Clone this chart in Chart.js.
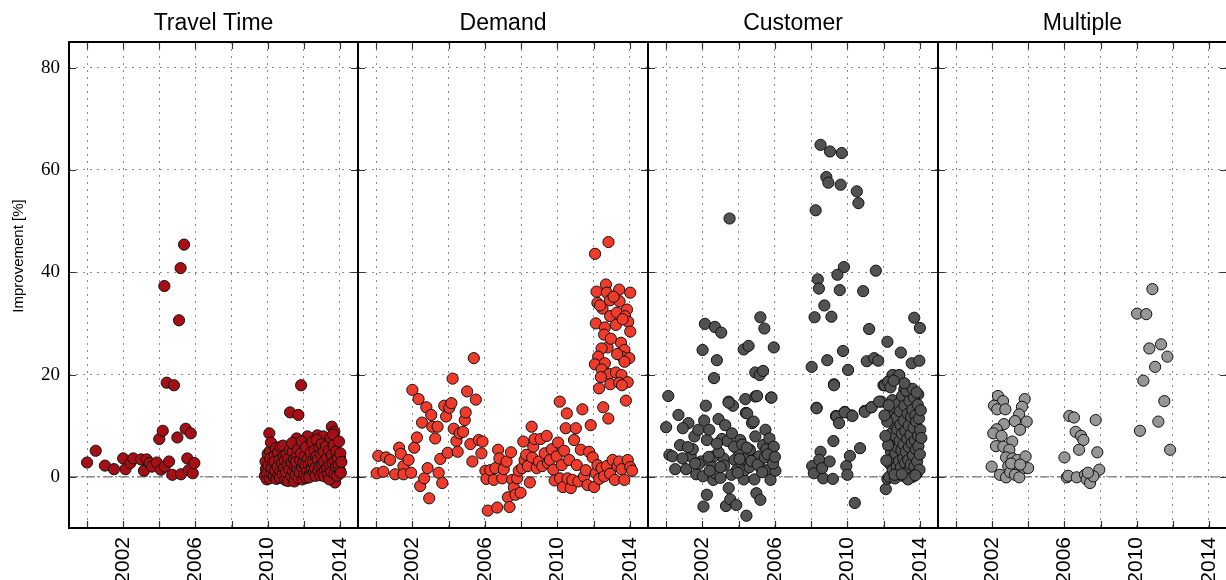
<!DOCTYPE html>
<html>
<head>
<meta charset="utf-8">
<script src="https://cdn.jsdelivr.net/npm/chart.js@4.4.1/dist/chart.umd.min.js"></script>
<style>
  html, body { margin: 0; padding: 0; background: #fff; }
  body { width: 1226px; height: 580px; overflow: hidden; position: relative; }
  canvas { position: absolute; top: 0; }
</style>
</head>
<body>
<script>
// ---------------- DATA ----------------
const panelTitles = ['Travel Time', 'Demand', 'Customer', 'Multiple'];
const panelColors = ['#a50f15', '#ef3b2c', '#525252', '#969696'];
const xTickValues = [2000, 2002, 2004, 2006, 2008, 2010, 2012, 2014];
const xLabelValues = [2002, 2006, 2010, 2014];
const yTickValues = [0, 20, 40, 60, 80];
const yAxisTitle = 'Improvement [%]';
const xRange = [1999, 2015];
const yRange = [-10, 85];

const travelTimePoints = [
  [2000.0,2.8],[2000.48,5.1],[2000.99,2.2],[2001.49,1.5],[2002.0,3.6],[2002.13,1.5],[2002.4,2.7],
  [2002.56,3.6],[2002.99,3.4],[2003.15,1.2],[2003.3,3.4],[2003.45,2.7],[2003.6,2.0],[2003.86,2.8],
  [2004.0,7.4],[2004.09,1.4],[2004.19,9.0],[2004.28,37.3],[2004.3,2.0],[2004.41,18.4],[2004.54,3.0],
  [2004.72,0.4],[2004.81,17.9],[2005.0,7.7],[2005.09,30.6],[2005.18,40.8],[2005.2,0.5],[2005.37,45.4],
  [2005.46,9.4],[2005.55,3.6],[2005.63,1.3],[2005.74,8.5],[2005.85,0.7],[2005.94,2.7],
  [2011.85,17.9],[2011.24,12.6],[2011.7,12.1],[2010.09,8.5],[2012.75,8.1],[2013.08,7.9],[2013.55,9.8],
  [2013.69,8.8],[2011.6,7.5],[2012.2,7.9],[2010.31,5.9],[2011.29,5.1],[2012.44,5.9],[2013.36,6.7],
  [2013.51,6.6],[2014.0,3.8],[2013.73,-1.1],[2012.31,3.3],
  [2009.85,0.2],[2009.9,1.5],[2009.95,-0.5],[2009.88,3.0],[2010.0,4.5],[2009.97,0.8],
  [2010.05,2.2],[2010.1,-0.3],[2010.12,5.0],[2010.15,3.6],[2010.2,0.6],[2010.22,1.8],[2010.18,6.7],
  [2010.3,2.9],[2010.33,0.1],[2010.38,4.2],[2010.42,1.2],[2010.45,5.6],[2010.48,-0.4],[2010.4,3.0],
  [2010.55,2.0],[2010.58,4.8],[2010.6,0.3],[2010.65,3.3],[2010.7,1.0],[2010.72,5.9],[2010.68,-0.2],
  [2010.8,2.6],[2010.83,0.5],[2010.88,4.0],[2010.9,1.7],[2010.95,3.2],[2010.97,-0.6],[2010.85,6.1],
  [2011.02,0.9],[2011.05,4.4],[2011.1,2.3],[2011.12,-0.8],[2011.15,3.6],[2011.2,1.4],[2011.22,5.3],
  [2011.3,0.2],[2011.33,2.8],[2011.38,4.9],[2011.4,1.1],[2011.45,3.4],[2011.48,-0.9],[2011.35,6.6],
  [2011.52,2.0],[2011.55,0.4],[2011.6,3.9],[2011.65,1.6],[2011.68,5.4],[2011.72,-0.3],[2011.58,2.9],
  [2011.78,0.8],[2011.8,3.2],[2011.85,4.6],[2011.9,1.9],[2011.93,-0.5],[2011.97,2.6],[2011.88,6.9],
  [2012.02,0.3],[2012.05,4.1],[2012.1,2.2],[2012.12,5.8],[2012.18,1.0],[2012.22,3.5],[2012.15,-0.2],
  [2012.28,2.4],[2012.35,0.6],[2012.38,4.7],[2012.42,1.5],[2012.47,6.8],[2012.4,3.0],[2012.3,-0.1],
  [2012.52,2.8],[2012.55,0.9],[2012.6,5.2],[2012.62,1.7],[2012.68,3.9],[2012.72,7.2],[2012.65,0.2],
  [2012.78,3.4],[2012.8,1.2],[2012.85,5.7],[2012.88,2.1],[2012.92,0.3],[2012.95,4.4],[2012.98,6.4],
  [2013.02,2.5],[2013.05,0.7],[2013.1,4.9],[2013.12,3.0],[2013.18,1.3],[2013.22,6.0],[2013.15,0.1],
  [2013.28,3.7],[2013.3,1.8],[2013.35,0.4],[2013.4,5.1],[2013.45,2.4],[2013.48,7.6],[2013.42,-0.5],
  [2013.52,1.0],[2013.55,4.3],[2013.6,2.7],[2013.65,6.2],[2013.7,0.6],[2013.72,3.1],[2013.62,8.3],
  [2013.78,1.9],[2013.8,5.0],[2013.85,0.2],[2013.88,3.6],[2013.92,2.2],[2013.95,6.9],[2014.0,1.2],
  [2014.02,4.6],[2014.05,0.8],[2014.08,2.9]
];

const demandPoints = [
  [2000.03,0.7],[2000.12,4.1],[2000.4,1.0],[2000.55,3.8],[2000.77,3.3],[2001.05,0.5],[2001.27,5.7],
  [2001.36,4.5],[2001.51,2.1],[2001.51,0.5],[2001.79,3.3],[2001.93,0.8],[2002.0,17.0],[2002.1,5.7],
  [2002.25,7.7],[2002.34,15.2],[2002.43,-1.8],[2002.53,10.6],[2002.65,-0.3],[2002.77,13.6],[2002.84,1.7],
  [2002.93,-4.2],[2003.04,12.1],[2003.1,9.8],[2003.26,7.5],[2003.39,9.8],[2003.45,0.8],[2003.54,3.5],
  [2003.65,-1.2],[2003.76,13.9],[2003.86,11.8],[2003.95,4.7],[2004.04,13.5],[2004.15,14.4],[2004.22,19.2],
  [2004.28,9.4],[2004.43,7.0],[2004.5,4.9],[2004.61,8.5],[2004.8,8.8],[2004.89,11.1],[2004.94,12.6],
  [2005.02,16.7],[2005.2,6.4],[2005.31,3.0],[2005.39,23.2],[2005.5,15.1],[2005.66,7.2],[2005.81,4.6],
  [2005.87,6.9],
  [2006.03,1.2],[2006.09,-0.4],[2006.16,-6.6],[2006.3,1.3],[2006.49,-0.6],[2006.58,1.7],[2006.68,-6.0],
  [2006.73,5.3],[2006.8,3.6],[2006.96,-0.3],[2007.04,1.5],[2007.2,3.0],[2007.27,-4.0],[2007.36,-5.9],
  [2007.44,4.8],[2007.51,-0.6],[2007.6,-2.1],[2007.69,-3.5],[2007.78,-0.3],[2007.87,1.2],[2007.97,-3.1],
  [2008.06,1.7],[2008.12,6.9],[2008.19,3.3],[2008.28,4.3],[2008.37,2.1],[2008.48,-1.1],[2008.58,9.8],
  [2008.61,3.8],[2008.67,5.9],[2008.74,7.4],[2008.86,1.7],[2008.98,3.0],[2009.08,7.4],[2009.17,2.1],
  [2009.3,4.6],[2009.41,8.0],[2009.48,2.7],[2009.59,3.3],[2009.69,5.4],[2009.78,1.4],[2009.85,-0.7],
  [2009.96,4.0],[2010.04,6.7],[2010.13,14.7],[2010.15,-0.3],[2010.24,2.3],[2010.31,-2.0],[2010.37,5.1],
  [2010.46,9.5],[2010.52,12.4],[2010.56,-0.3],[2010.65,3.3],[2010.74,-2.2],[2010.83,-0.6],[2010.92,7.2],
  [2011.02,9.5],[2011.07,2.3],[2011.16,-0.9],[2011.29,5.3],[2011.38,13.2],[2011.47,0.1],[2011.57,1.3],
  [2011.66,-1.6],[2011.75,4.9],[2011.84,10.1],[2011.95,3.8],[2012.03,-2.0],[2012.12,0.7],[2012.21,2.3],
  [2012.31,-0.4],[2012.44,1.7],[2012.53,13.6],[2012.58,0.1],[2012.73,2.1],[2012.81,11.4],[2012.91,0.6],
  [2013.05,3.3],[2013.17,-0.6],[2013.32,2.1],[2013.41,3.0],[2013.54,1.5],[2013.69,-0.6],[2013.78,14.9],
  [2013.88,3.3],[2014.02,1.9],[2014.12,1.2],
  [2012.82,45.9],[2012.08,43.6],[2012.68,37.6],[2012.16,36.2],[2012.73,36.0],[2013.41,36.6],[2014.02,36.0],
  [2012.9,34.5],[2013.43,34.3],[2012.21,34.0],[2012.49,32.9],[2012.91,31.4],[2013.28,32.1],[2013.84,32.7],
  [2013.73,31.4],[2013.91,30.3],[2012.12,30.0],[2012.62,29.2],[2013.23,29.7],[2012.58,27.8],[2014.02,28.4],
  [2013.51,26.2],[2013.7,24.8],[2012.77,25.3],[2012.44,25.1],[2012.25,23.5],[2013.6,23.4],[2013.97,23.2],
  [2013.7,22.5],[2012.07,22.0],[2012.62,22.2],[2012.44,21.0],[2012.86,20.1],[2013.23,20.4],[2013.54,19.9],
  [2012.4,19.5],[2012.92,18.1],[2013.41,18.4],[2013.88,18.5],[2012.3,17.3],[2013.56,17.9],[2012.35,33.5],
  [2013.1,35.2],[2013.6,30.8],[2012.95,27.0],[2013.3,24.0]
];

const customerPoints = [
  [2008.52,64.9],[2009.04,63.6],[2009.69,63.3],[2008.84,58.6],[2008.95,57.5],[2009.63,57.1],[2010.52,55.8],
  [2010.61,53.5],[2008.25,52.1],[2003.5,50.5],[2009.81,41.0],[2011.57,40.3],[2009.45,39.5],[2008.37,38.6],
  [2008.43,36.8],[2009.58,36.5],[2010.87,36.3],[2008.73,33.5],[2008.19,31.2],[2009.12,31.3],[2011.2,28.9],
  [2013.69,31.1],[2014.0,29.1],[2002.14,29.9],[2002.69,29.3],[2003.04,28.2],[2005.2,31.2],[2005.42,29.0],
  [2002.01,24.8],[2002.8,22.8],[2004.28,24.9],[2004.55,25.6],[2005.94,25.3],[2002.64,19.3],[2004.92,20.4],
  [2005.16,19.9],[2005.35,20.7],[2000.12,15.8],[2002.19,13.9],[2003.45,14.7],[2003.69,13.9],[2004.37,15.2],
  [2004.92,15.7],[2005.79,15.5],[2000.68,12.1],[2004.4,12.5],
  [2008.03,21.5],[2008.89,22.8],[2009.76,24.6],[2010.04,20.9],[2009.26,18.1],[2008.3,13.5],[2009.37,11.9],
  [2009.85,12.7],[2010.24,12.0],[2011.07,22.6],[2011.48,23.2],[2011.7,22.7],[2012.21,26.4],[2012.95,24.3],
  [2013.55,22.2],[2013.97,22.7],[2012.58,19.8],[2012.86,19.8],[2012.12,17.9],[2012.25,18.6],[2010.96,12.9],
  [2011.33,13.6],[2011.88,14.7],
  [2000.0,9.7],[2001.23,10.5],[2000.92,9.5],[2000.18,4.3],[2000.35,4.0],[2000.5,1.5],[2001.1,1.5],
  [2000.77,6.2],[2001.36,4.0],[2001.47,5.4],[2001.56,7.9],[2001.78,9.2],[2001.66,0.5],[2001.93,3.0],
  [2002.06,-5.8],[2002.03,0.1],[2002.1,11.0],[2002.25,7.2],[2002.25,-3.5],[2002.38,9.2],[2002.53,2.0],
  [2002.62,4.0],[2002.6,-0.6],[2002.71,0.7],[2002.89,11.3],[2003.0,-0.2],[2003.08,7.4],[2003.17,3.6],
  [2003.26,10.1],[2003.3,-5.7],[2003.39,7.0],[2003.45,-2.2],[2003.54,-4.4],[2003.45,14.5],[2003.63,8.5],
  [2003.78,3.3],[2003.87,-5.5],[2003.9,1.3],[2004.0,5.1],[2004.09,7.2],[2004.15,2.8],[2004.28,-0.5],
  [2004.33,1.3],[2004.43,-7.6],[2004.47,12.4],[2004.55,4.0],[2004.62,5.3],[2004.74,10.5],[2004.83,10.8],
  [2004.87,-0.5],[2004.92,7.9],[2004.98,-3.2],[2005.02,15.8],[2005.13,4.0],[2005.2,-4.5],[2005.24,1.7],
  [2005.35,6.2],[2005.48,9.2],[2005.53,5.4],[2005.63,1.3],[2005.7,7.5],[2005.76,-0.6],[2005.81,15.5],
  [2005.88,3.3],[2005.94,5.9],[2006.03,1.2],
  [2001.8,2.5],[2002.4,1.2],[2002.9,4.8],[2003.2,2.2],[2003.6,0.4],[2003.75,5.9],[2004.05,3.5],[2004.2,6.3],
  [2004.6,1.9],[2004.7,3.1],[2005.05,2.4],[2005.3,0.9],[2005.45,3.8],[2005.6,4.4],[2005.9,2.6],[2006.0,3.9],
  [2002.8,6.5],[2003.0,1.9],[2003.95,0.8],[2004.45,5.7],[2002.35,3.9],[2001.2,5.8],[2000.9,3.6],[2001.6,2.6],
  [2008.3,13.4],[2008.06,2.1],[2008.15,0.7],[2008.52,4.9],[2008.45,3.3],[2008.67,-0.3],[2008.61,1.7],
  [2009.02,3.0],[2009.2,-0.4],[2009.23,7.0],[2009.26,17.9],[2009.41,11.8],[2009.54,10.5],[2009.85,12.6],
  [2009.94,2.1],[2010.0,0.4],[2010.14,4.1],[2010.28,11.9],[2010.41,-5.1],[2010.7,5.6],[2010.96,12.7],
  [2011.33,13.6],[2011.75,14.7],[2011.99,17.9],[2012.12,-2.4],[2012.21,-0.4],
  [2012.49,19.9],[2012.86,19.9],[2012.07,17.9],[2012.25,18.6],[2013.14,17.1],[2013.41,17.1],[2013.91,16.1],
  [2012.3,0.0],[2012.35,2.5],[2012.4,5.0],[2012.42,8.5],[2012.45,12.2],[2012.48,15.0],[2012.5,1.3],
  [2012.52,3.8],[2012.55,6.8],[2012.58,10.3],[2012.6,13.6],[2012.62,-0.3],[2012.65,4.6],[2012.68,7.9],
  [2012.7,11.5],[2012.72,2.0],[2012.75,9.3],[2012.78,5.7],[2012.8,14.3],[2012.82,0.7],[2012.85,3.1],
  [2012.88,7.0],[2012.9,12.8],[2012.92,10.2],[2012.95,1.8],[2012.98,5.2],[2013.0,8.4],[2013.02,15.8],
  [2013.05,0.2],[2013.08,3.6],[2013.1,6.3],[2013.12,11.0],[2013.15,13.9],[2013.18,2.7],[2013.2,9.0],
  [2013.22,4.9],[2013.25,16.8],[2013.28,0.9],[2013.3,7.4],[2013.32,12.3],[2013.35,3.3],[2013.38,10.0],
  [2013.4,5.8],[2013.42,14.8],[2013.45,1.6],[2013.48,8.2],[2013.5,2.4],[2013.52,11.7],[2013.55,6.6],
  [2013.58,13.1],[2013.6,0.0],[2013.62,4.2],[2013.65,9.6],[2013.68,15.5],[2013.7,2.1],[2013.72,7.1],
  [2013.75,12.0],[2013.78,5.4],[2013.8,10.8],[2013.82,0.6],[2013.85,3.0],[2013.88,14.1],[2013.9,8.0],
  [2013.92,6.0],[2013.95,11.4],[2013.98,1.4],[2014.0,4.4],[2014.02,9.2],[2014.05,13.0],[2014.08,7.6],
  [2012.38,17.5],[2012.2,10.8],[2012.25,6.2],[2012.28,14.0],[2012.15,3.2],[2012.1,8.0],[2013.6,17.2],
  [2013.15,18.3],[2012.55,18.8],[2013.82,16.5],[2012.05,12.0],[2013.35,-0.5],[2012.6,0.4],[2013.0,0.5],
  [2013.75,0.3]
];

const multiplePoints = [
  [2002.32,15.8],[2002.6,14.8],[2002.1,13.9],[2002.28,13.2],[2002.73,13.2],[2003.8,15.2],[2003.65,13.7],
  [2003.49,12.2],[2003.26,10.9],[2003.91,10.8],[2002.65,10.3],[2002.25,9.3],[2003.54,9.2],[2002.06,8.5],
  [2002.52,8.0],[2003.11,6.9],[2002.21,6.0],[2002.62,5.9],[2002.95,5.3],[2002.77,3.8],[2003.13,3.6],
  [2003.39,3.3],[2003.85,4.0],[2001.97,2.0],[2002.89,2.1],[2003.15,1.7],[2003.72,1.7],[2003.99,1.7],
  [2002.43,0.4],[2002.77,-0.1],[2003.0,0.9],[2003.26,0.4],[2003.5,-0.1],[2003.05,2.6],[2003.55,2.4],
  [2006.27,11.9],[2006.53,11.6],[2007.73,11.1],[2006.62,8.8],[2006.92,8.0],[2007.05,7.2],[2006.81,5.3],
  [2007.82,4.8],[2006.0,3.8],[2007.93,1.4],[2006.13,-0.1],[2006.21,0.2],[2006.68,-0.1],[2007.14,0.4],
  [2007.23,-0.5],[2007.42,-1.2],[2007.6,0.1],[2007.3,0.8],
  [2010.87,36.7],[2010.02,31.9],[2010.53,31.8],[2011.35,25.9],[2010.7,25.1],[2011.7,23.5],[2011.02,21.5],
  [2010.37,18.8],[2011.53,14.8],[2011.2,10.8],[2010.18,9.0],[2011.85,5.3]
];

const panelPoints = [travelTimePoints, demandPoints, customerPoints, multiplePoints];

// ---------------- LAYOUT ----------------
const W = 1226, H = 580;
const panelLefts = [69, 358, 648, 938];
const panelRights = [358, 648, 938, 1227];
const plotBottom = 528;
const yTitleCenter = { x: 19, y: 256 };

const framePlugin = {
  id: 'frame',
  afterDraw(chart, args, opts) {
    const { ctx, chartArea: a, scales } = chart;
    ctx.save();
    ctx.strokeStyle = '#333';
    ctx.lineWidth = 1.2;
    const tl = 7;
    ctx.beginPath();
    xTickValues.forEach(v => {
      const px = Math.round(scales.x.getPixelForValue(v)) + 0.5;
      ctx.moveTo(px, a.bottom); ctx.lineTo(px, a.bottom - tl);
      ctx.moveTo(px, a.top); ctx.lineTo(px, a.top + tl);
    });
    yTickValues.forEach(v => {
      const py = Math.round(scales.y.getPixelForValue(v)) + 0.5;
      ctx.moveTo(a.left, py); ctx.lineTo(a.left + tl, py);
      ctx.moveTo(a.right, py); ctx.lineTo(a.right - tl, py);
    });
    ctx.stroke();
    ctx.strokeStyle = '#000';
    ctx.lineWidth = 2;
    ctx.strokeRect(a.left, a.top, a.right - a.left, a.bottom - a.top);
    if (opts && opts.yTitle) {
      ctx.translate(yTitleCenter.x, yTitleCenter.y);
      ctx.rotate(-Math.PI / 2);
      ctx.fillStyle = '#000';
      ctx.font = '15px "Liberation Sans"';
      ctx.textAlign = 'center';
      ctx.textBaseline = 'middle';
      ctx.fillText(opts.yTitle, 0, 0);
    }
    ctx.restore();
  }
};

function makePanel(i) {
  const L = panelLefts[i], R = panelRights[i];
  const first = i === 0;
  const canvasLeft = first ? 0 : L - 3;
  const yWidth = L - canvasLeft;
  const canvasWidth = R - canvasLeft + 3;
  const cv = document.createElement('canvas');
  cv.width = canvasWidth; cv.height = H;
  cv.style.left = canvasLeft + 'px';
  cv.style.width = canvasWidth + 'px';
  cv.style.height = H + 'px';
  document.body.appendChild(cv);

  new Chart(cv, {
    type: 'scatter',
    data: {
      datasets: [
        {
          data: panelPoints[i].map(p => ({ x: p[0], y: p[1] })),
          backgroundColor: panelColors[i],
          borderColor: '#111',
          borderWidth: 1,
          pointRadius: 5.6,
          pointHoverRadius: 5.6,
          order: 1
        },
        {
          data: [{ x: xRange[0], y: 0 }, { x: xRange[1], y: 0 }],
          showLine: true,
          borderColor: '#777',
          borderWidth: 1.2,
          borderDash: [9, 3, 2, 3],
          pointRadius: 0,
          fill: false,
          order: 2
        }
      ]
    },
    options: {
      responsive: false,
      animation: false,
      events: [],
      layout: { autoPadding: false, padding: { left: 0, right: 3, top: 0, bottom: 0 } },
      plugins: {
        legend: { display: false },
        tooltip: { enabled: false },
        frame: { yTitle: first ? yAxisTitle : null },
        title: {
          display: true,
          text: panelTitles[i],
          fullSize: false,
          color: '#000',
          font: { family: 'Liberation Sans', size: 23, weight: 'normal', lineHeight: 1.2 },
          padding: { top: 9.5, bottom: 4.9 }
        }
      },
      scales: {
        x: {
          type: 'linear',
          min: xRange[0], max: xRange[1],
          afterBuildTicks(s) { s.ticks = xTickValues.map(v => ({ value: v })); },
          afterFit(s) { s.height = H - plotBottom; s.paddingLeft = 0; s.paddingRight = 0; },
          grid: { color: '#8a8a8a', lineWidth: 1, drawTicks: false },
          border: { display: false, dash: [2, 5] },
          ticks: {
            autoSkip: false,
            minRotation: 90, maxRotation: 90,
            padding: 9,
            color: '#000',
            font: { family: 'Liberation Sans', size: 21 },
            callback: v => xLabelValues.includes(v) ? String(v) : ''
          }
        },
        y: {
          type: 'linear',
          min: yRange[0], max: yRange[1],
          afterBuildTicks(s) { s.ticks = yTickValues.map(v => ({ value: v })); },
          afterFit(s) { s.width = yWidth; s.paddingTop = 0; s.paddingBottom = 0; },
          grid: { color: '#8a8a8a', lineWidth: 1, drawTicks: false },
          border: { display: false, dash: [2, 5] },
          ticks: {
            display: first,
            padding: 9,
            color: '#000',
            font: { family: 'Liberation Serif', size: 19 },
            callback: v => String(v)
          }
        }
      }
    },
    plugins: [framePlugin]
  });
}

for (let i = 0; i < 4; i++) makePanel(i);
</script>
</body>
</html>
